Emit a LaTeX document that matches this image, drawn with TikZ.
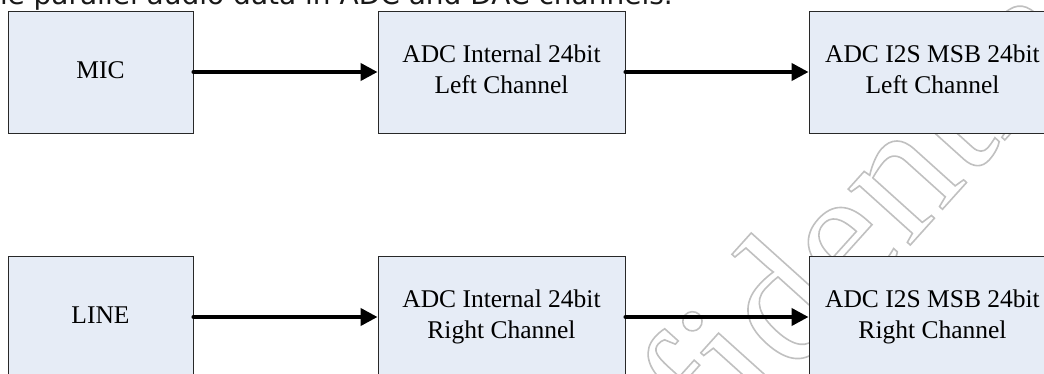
\documentclass[tikz,border=0pt]{standalone}
\usepackage{fontspec}
\setmainfont{Liberation Serif}
\newfontfamily\topfont{DejaVu Sans}
\usetikzlibrary{arrows.meta}
\definecolor{boxfill}{RGB}{230,236,246}
\definecolor{boxline}{RGB}{40,40,40}
\definecolor{wmgray}{RGB}{192,192,192}
\newcommand{\outlinetext}[1]{\special{pdf:literal 1 Tr 1.6 w}#1\special{pdf:literal 0 Tr}}
\begin{document}
\begin{tikzpicture}[x=1pt,y=-1pt,
  blk/.style={draw=boxline, line width=0.9pt, fill=boxfill, minimum height=122pt,
    align=center, inner sep=0pt, font=\fontsize{25.5}{31}\selectfont},
  arr/.style={line width=4pt, line cap=round, -{Triangle[length=17pt,width=17pt]}},
  captxt/.style={anchor=base east, inner sep=0pt, text=black!90, font=\topfont\fontsize{28}{30}\selectfont},
  wmtxt/.style={rotate=48, anchor=base west, inner sep=0pt, text=wmgray, font=\fontsize{182}{182}\selectfont}]
\useasboundingbox (0,0) rectangle (1044,374);
\clip (0,0) rectangle (1044,374);
% watermark (outlined letters), behind the diagram
\node[wmtxt] (watermark) at (515,684) {\outlinetext{Confidential}};
\node[captxt] (caption) at (673,5) {the parallel audio data in ADC and DAC channels.};
\node[blk, minimum width=185pt] (mic) at (100.5,72) {\strut MIC};
\node[blk, minimum width=247pt] (adcL) at (501.5,72) {\strut ADC Internal 24bit\\\strut Left Channel};
\node[blk, minimum width=247pt] (i2sL) at (932.5,72) {\strut ADC I2S MSB 24bit\\\strut Left Channel};
\node[blk, minimum width=185pt] (line) at (100.5,317) {\strut LINE};
\node[blk, minimum width=247pt] (adcR) at (501.5,317) {\strut ADC Internal 24bit\\\strut Right Channel};
\node[blk, minimum width=247pt] (i2sR) at (932.5,317) {\strut ADC I2S MSB 24bit\\\strut Right Channel};
\draw[arr] (mic.east) -- (adcL.west);
\draw[arr] (adcL.east) -- (i2sL.west);
\draw[arr] (line.east) -- (adcR.west);
\draw[arr] (adcR.east) -- (i2sR.west);
\end{tikzpicture}
\end{document}
